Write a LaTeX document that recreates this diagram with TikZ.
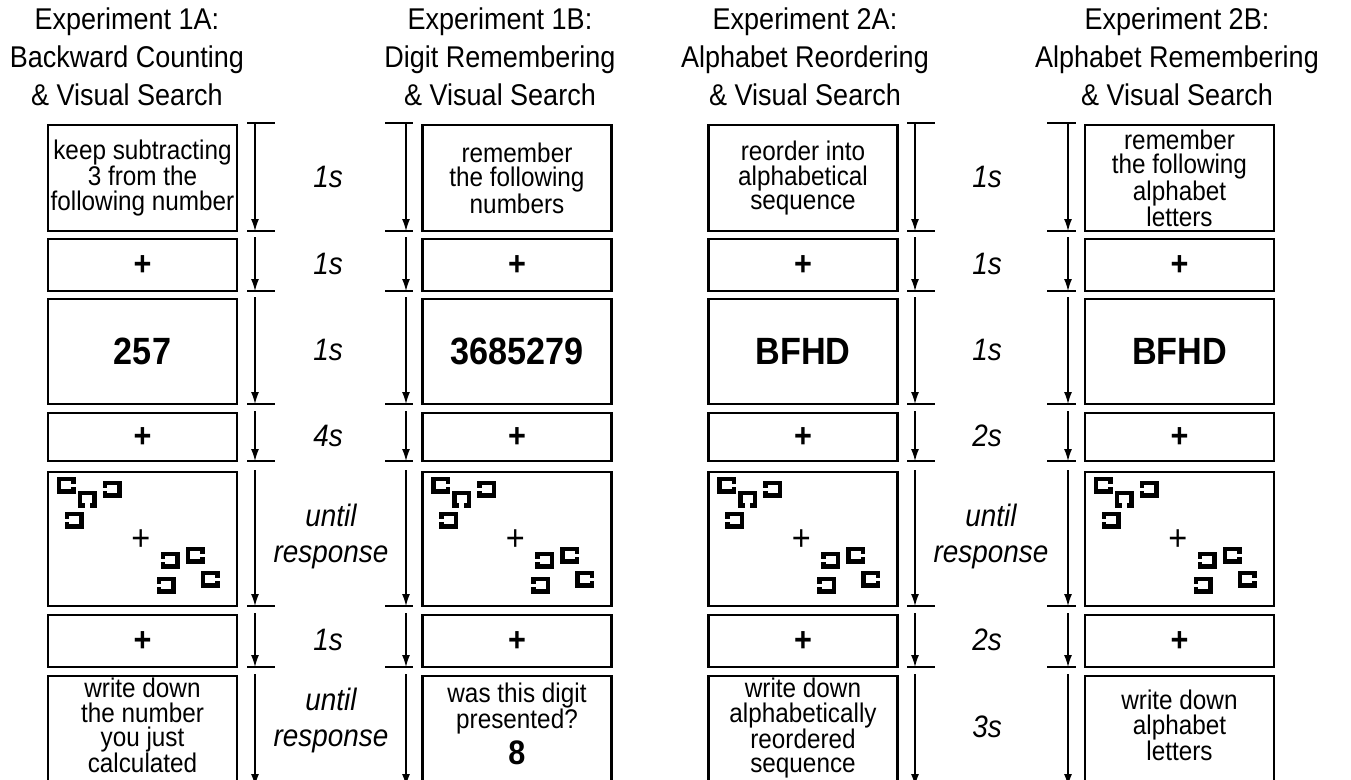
\documentclass[tikz,border=0pt]{standalone}
\usepackage{fontspec}
\setmainfont{Liberation Sans}[FakeStretch=0.9]
\usetikzlibrary{arrows.meta}
\begin{document}
\begin{tikzpicture}[x=1pt,y=-1pt,
  box/.style={draw, line width=2.2pt, minimum width=189pt, inner sep=0pt, align=center,
    font=\fontsize{27}{24.5}\selectfont, anchor=north},
  txt/.style={inner sep=0pt, align=center, font=\fontsize{27}{24.5}\selectfont},
  big/.style={font=\fontsize{38}{38}\selectfont\bfseries},
  plusf/.style={font=\fontsize{34}{34}\selectfont\bfseries},
  hdr/.style={inner sep=0pt, align=center, font=\fontsize{30}{38}\selectfont, anchor=north},
  dur/.style={inner sep=0pt, align=center, font=\fontsize{31}{36}\selectfont\itshape},
  sqline/.style={line width=4.2pt, line cap=butt, line join=miter},
  tick/.style={line width=1.4pt},
  tarrow/.style={line width=1.3pt, -{Latex[length=12pt,width=8pt]}},
  sqR/.pic={\draw[sqline] (14.5,4.5) -- (14.5,0) -- (0,0) -- (0,12.5) -- (14.5,12.5) -- (14.5,8);},
  sqL/.pic={\draw[sqline] (0,4.5) -- (0,0) -- (14.5,0) -- (14.5,12.5) -- (0,12.5) -- (0,8);},
  sqB/.pic={\draw[sqline] (4.7,12.5) -- (0,12.5) -- (0,0) -- (14.5,0) -- (14.5,12.5) -- (9.8,12.5);}
]
\useasboundingbox (0,0) rectangle (1351,779);
\clip (0,0) rectangle (1351,779);

% headers
\node[hdr] (h1) at (127,8) {Experiment 1A:\\Backward Counting\\\& Visual Search};
\node[hdr] (h2) at (500,8) {Experiment 1B:\\Digit Remembering\\\& Visual Search};
\node[hdr] (h3) at (805,8) {Experiment 2A:\\Alphabet Reordering\\\& Visual Search};
\node[hdr] (h4) at (1177,8) {Experiment 2B:\\Alphabet Remembering\\\& Visual Search};

% row 1 boxes
\node[box, minimum height=106pt] (r1b1) at (142.5,124) {keep subtracting\\3 from the\\following number};
\node[box, minimum height=106pt] (r1b2) at (517,124) {remember\\the following\\numbers};
\node[box, minimum height=106pt] (r1b3) at (803,124) {reorder into\\alphabetical\\sequence};
\node[box, minimum height=106pt] (r1b4) at (1179.5,124) {remember\\the following\\alphabet\\letters};

% row 3 boxes
\node[box, big, minimum height=105pt] (r3b1) at (142.5,298) {257};
\node[box, big, minimum height=105pt] (r3b2) at (517,298) {3685279};
\node[box, big, minimum height=105pt] (r3b3) at (803,298) {BFHD};
\node[box, big, minimum height=105pt] (r3b4) at (1179.5,298) {BFHD};

% repeated rows
\foreach \c/\cx in {1/142.5,2/517,3/803,4/1179.5}{
  \node[box, plusf, minimum height=52pt] (r2b\c) at (\cx,238) {+};
  \node[box, plusf, minimum height=48pt] (r4b\c) at (\cx,412) {+};
  \node[box, plusf, minimum height=52pt] (r6b\c) at (\cx,614) {+};
  \node[box, minimum height=134pt] (r5b\c) at (\cx,471) {};
  \node[box, minimum height=130pt] (r7b\c) at (\cx,675) {};
  \begin{scope}[shift={(r5b\c.north west)}]
    \pic at (12,8) {sqR};
    \pic at (33,22) {sqB};
    \pic at (58,12) {sqL};
    \pic at (20,43) {sqL};
    \pic at (116,83) {sqL};
    \pic at (141,78) {sqR};
    \pic at (156,102) {sqR};
    \pic at (112,108) {sqL};
    \node[inner sep=0pt, font=\fontsize{36}{36}\selectfont] (fx\c) at (94,69) {+};
  \end{scope}
}

% row 7 texts
\node[txt, anchor=north] (w1) at (142.5,678) {write down\\the number\\you just\\calculated};
\node[txt, anchor=north] (w2) at (517,683) {was this digit\\presented?\\[5pt]{\fontsize{34}{34}\selectfont\bfseries 8}};
\node[txt, anchor=north] (w3) at (803,678) {write down\\alphabetically\\reordered\\sequence};
\node[txt, anchor=north] (w4) at (1179.5,690) {write down\\alphabet\\letters};

% time lines
\foreach \c/\ax/\ta/\tb in {1/255/247/275, 2/406/385/413, 3/915/907/935, 4/1068/1047/1076}{
  \foreach \t [count=\k] in {123,231,291,404,461,606,667}{
    \coordinate (ta-\c-\k) at (\ta,\t);
    \coordinate (tb-\c-\k) at (\tb,\t);
    \draw[tick] (ta-\c-\k) -- (tb-\c-\k);
  }
  \foreach \s/\e [count=\k] in {123/231,237/291,297/404,411/461,470/606,613/667,674/786}{
    \coordinate (as-\c-\k) at (\ax,\s);
    \coordinate (ae-\c-\k) at (\ax,\e);
    \draw[tarrow] (as-\c-\k) -- (ae-\c-\k);
  }
}

% durations
\node[dur] (d1a) at (328,177) {1s};
\node[dur] (d1b) at (328,264) {1s};
\node[dur] (d1c) at (328,350) {1s};
\node[dur] (d1d) at (328,436) {4s};
\node[dur] (d1e) at (331,536) {until\\response};
\node[dur] (d1f) at (328,640) {1s};
\node[dur] (d1g) at (331,720) {until\\response};

\node[dur] (d3a) at (987,177) {1s};
\node[dur] (d3b) at (987,264) {1s};
\node[dur] (d3c) at (987,350) {1s};
\node[dur] (d3d) at (987,436) {2s};
\node[dur] (d3e) at (991,536) {until\\response};
\node[dur] (d3f) at (987,640) {2s};
\node[dur] (d3g) at (987,727) {3s};
\end{tikzpicture}
\end{document}
